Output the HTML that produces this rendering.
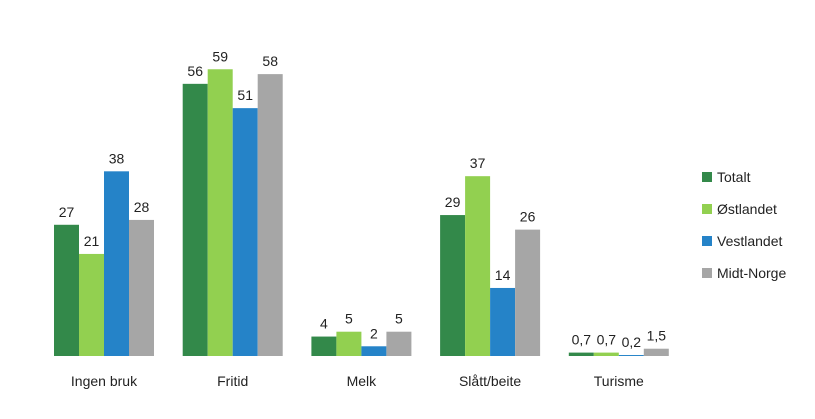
<!DOCTYPE html>
<html><head><meta charset="utf-8"><style>
body{margin:0;background:#fff;font-family:"Liberation Sans",sans-serif;}
svg text{font-family:"Liberation Sans",sans-serif;font-size:14px;fill:#222;}
</style></head><body>
<svg id="chart" width="815" height="414" xmlns="http://www.w3.org/2000/svg"></svg>
<script>
const categories=["Ingen bruk","Fritid","Melk","Slått/beite","Turisme"];
const seriesNames=["Totalt","Østlandet","Vestlandet","Midt-Norge"];
const totalt=[27,56,4,29,0.7];
const ostlandet=[21,59,5,37,0.7];
const vestlandet=[38,51,2,14,0.2];
const midtNorge=[28,58,5,26,1.5];
const labelsTotalt=["27","56","4","29","0,7"];
const labelsOst=["21","59","5","37","0,7"];
const labelsVest=["38","51","2","14","0,2"];
const labelsMidt=["28","58","5","26","1,5"];
const colors=["#33894a","#92d050","#2583c8","#a6a6a6"];
const series=[totalt,ostlandet,vestlandet,midtNorge];
const labels=[labelsTotalt,labelsOst,labelsVest,labelsMidt];
const svg=document.getElementById('chart');
const NS="http://www.w3.org/2000/svg";
const baseY=356, pxPerUnit=4.86, groupStart=104, groupStep=128.7, barW=25;
function y(v){return baseY-v*pxPerUnit;}
function x(ci,si){return groupStart+ci*groupStep+(si-2)*barW;}
function mk(t,a){const e=document.createElementNS(NS,t);for(const k in a)e.setAttribute(k,a[k]);svg.appendChild(e);return e;}
categories.forEach((c,ci)=>{
  series.forEach((s,si)=>{
    const r=mk('rect',{x:x(ci,si),y:y(s[ci]),width:barW,height:baseY-y(s[ci]),fill:colors[si]});
    
    
    const t=mk('text',{x:x(ci,si)+barW/2,y:y(s[ci])-8,'text-anchor':'middle'});
    t.textContent=labels[si][ci];
    
    
  });
  const t=mk('text',{x:groupStart+ci*groupStep,y:386,'text-anchor':'middle'});
  t.textContent=c;
  
  
});
seriesNames.forEach((n,i)=>{
  const r=mk('rect',{x:702,y:172+i*32,width:10,height:10,fill:colors[i]});
  
  
  const t=mk('text',{x:717,y:182+i*32});
  t.textContent=n;
  
  
});
</script>
</body></html>
